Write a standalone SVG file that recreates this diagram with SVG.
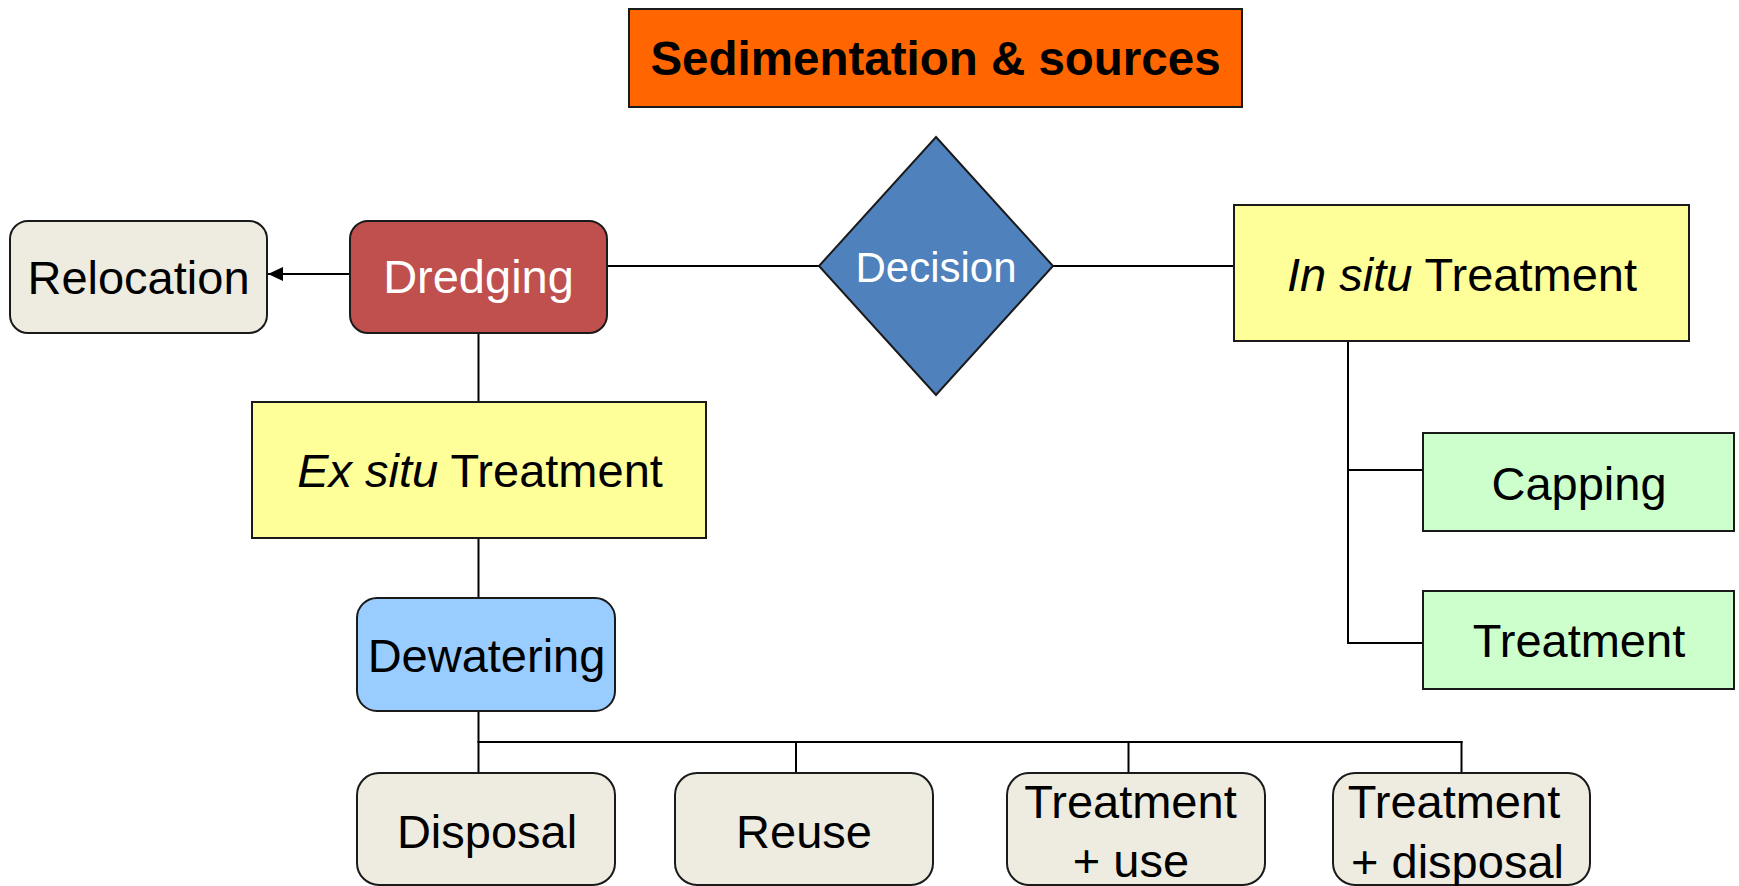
<svg xmlns="http://www.w3.org/2000/svg" width="1739" height="886" viewBox="0 0 1739 886">
<style>
.box{stroke:#1a1a1a;stroke-width:2}
.t{font-family:"Liberation Sans",Arial,sans-serif;font-size:47px;fill:#000;text-anchor:middle}
.w{fill:#fff}
.c{stroke:#000;stroke-width:2;fill:none}
</style>
<defs>
<marker id="ah" markerUnits="userSpaceOnUse" markerWidth="16" markerHeight="14" refX="15" refY="7" orient="auto">
<path d="M0,0 L15,7 L0,14 Z" fill="#000"/>
</marker>
</defs>
<rect width="1739" height="886" fill="#fff"/>
<g id="connectors">
<line class="c" x1="350" y1="274" x2="268" y2="274" marker-end="url(#ah)"/>
<line class="c" x1="607" y1="266" x2="819" y2="266"/>
<line class="c" x1="1053" y1="266" x2="1234" y2="266"/>
<line class="c" x1="478.5" y1="333" x2="478.5" y2="402"/>
<line class="c" x1="478.5" y1="538" x2="478.5" y2="598"/>
<polyline class="c" points="1348,341 1348,643 1423,643"/>
<line class="c" x1="1348" y1="470" x2="1423" y2="470"/>
<line class="c" x1="478.5" y1="711" x2="478.5" y2="773"/>
<line class="c" x1="477.5" y1="742" x2="1462.5" y2="742"/>
<line class="c" x1="796" y1="742" x2="796" y2="773"/>
<line class="c" x1="1128.5" y1="742" x2="1128.5" y2="773"/>
<line class="c" x1="1461.5" y1="741" x2="1461.5" y2="773"/>
</g>
<g id="title">
<rect class="box" x="629" y="9" width="613" height="98" fill="#FF6600"/>
<text class="t" x="935.5" y="75" style="font-weight:bold;font-size:47.5px">Sedimentation &amp; sources</text>
</g>
<g id="decision">
<polygon class="box" points="936,137 1053,266 936,395 819,266" fill="#4F81BD"/>
<text class="t w" x="936" y="282" style="font-size:42px">Decision</text>
</g>
<g id="relocation">
<rect class="box" x="10" y="221" width="257" height="112" rx="18" fill="#EEECE1"/>
<text class="t" x="138.5" y="294">Relocation</text>
</g>
<g id="dredging">
<rect class="box" x="350" y="221" width="257" height="112" rx="18" fill="#C0504D"/>
<text class="t w" x="478.5" y="293">Dredging</text>
</g>
<g id="insitu">
<rect class="box" x="1234" y="205" width="455" height="136" fill="#FFFF99"/>
<text class="t" x="1462" y="291"><tspan font-style="italic">In situ</tspan> Treatment</text>
</g>
<g id="exsitu">
<rect class="box" x="252" y="402" width="454" height="136" fill="#FFFF99"/>
<text class="t" x="480" y="486.5"><tspan font-style="italic">Ex situ</tspan> Treatment</text>
</g>
<g id="capping">
<rect class="box" x="1423" y="433" width="311" height="98" fill="#CCFFCC"/>
<text class="t" x="1579" y="500">Capping</text>
</g>
<g id="treatment">
<rect class="box" x="1423" y="591" width="311" height="98" fill="#CCFFCC"/>
<text class="t" x="1579" y="656.5">Treatment</text>
</g>
<g id="dewatering">
<rect class="box" x="357" y="598" width="258" height="113" rx="20" fill="#99CCFF"/>
<text class="t" x="486.5" y="671.5">Dewatering</text>
</g>
<g id="disposal">
<rect class="box" x="357" y="773" width="258" height="112" rx="22" fill="#EEECE1"/>
<text class="t" x="487" y="847.5">Disposal</text>
</g>
<g id="reuse">
<rect class="box" x="675" y="773" width="258" height="112" rx="22" fill="#EEECE1"/>
<text class="t" x="804" y="847.5">Reuse</text>
</g>
<g id="treatment-use">
<rect class="box" x="1007" y="773" width="258" height="112" rx="22" fill="#EEECE1"/>
<text class="t" x="1130.5" y="818">Treatment</text>
<text class="t" x="1131" y="877">+ use</text>
</g>
<g id="treatment-disposal">
<rect class="box" x="1333" y="773" width="257" height="112" rx="22" fill="#EEECE1"/>
<text class="t" x="1454" y="818">Treatment</text>
<text class="t" x="1457.5" y="878">+ disposal</text>
</g>
</svg>
